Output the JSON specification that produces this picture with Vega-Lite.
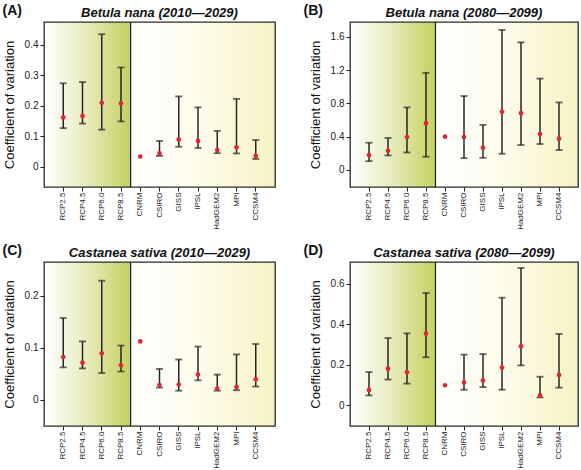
{
  "$schema": "https://vega.github.io/schema/vega-lite/v6.json",
  "background": "white",
  "padding": {"left": 1, "top": 2, "right": 2, "bottom": 0},
  "datasets": {
    "A": [
      {"model": "RCP2.5", "lo": 0.127, "med": 0.162, "hi": 0.274},
      {"model": "RCP4.5", "lo": 0.142, "med": 0.167, "hi": 0.278},
      {"model": "RCP6.0", "lo": 0.122, "med": 0.210, "hi": 0.435},
      {"model": "RCP8.5", "lo": 0.149, "med": 0.208, "hi": 0.326},
      {"model": "CNRM", "lo": null, "med": 0.034, "hi": null},
      {"model": "CSIRO", "lo": 0.036, "med": 0.044, "hi": 0.085},
      {"model": "GISS", "lo": 0.066, "med": 0.090, "hi": 0.231},
      {"model": "IPSL", "lo": 0.062, "med": 0.085, "hi": 0.195},
      {"model": "HadGEM2", "lo": 0.045, "med": 0.055, "hi": 0.118},
      {"model": "MPI", "lo": 0.044, "med": 0.064, "hi": 0.223},
      {"model": "CCSM4", "lo": 0.026, "med": 0.036, "hi": 0.088}
    ],
    "B": [
      {"model": "RCP2.5", "lo": 0.105, "med": 0.178, "hi": 0.327},
      {"model": "RCP4.5", "lo": 0.174, "med": 0.230, "hi": 0.384},
      {"model": "RCP6.0", "lo": 0.210, "med": 0.396, "hi": 0.752},
      {"model": "RCP8.5", "lo": 0.158, "med": 0.562, "hi": 1.168},
      {"model": "CNRM", "lo": null, "med": 0.400, "hi": null},
      {"model": "CSIRO", "lo": 0.141, "med": 0.396, "hi": 0.889},
      {"model": "GISS", "lo": 0.145, "med": 0.267, "hi": 0.541},
      {"model": "IPSL", "lo": 0.194, "med": 0.699, "hi": 1.685},
      {"model": "HadGEM2", "lo": 0.299, "med": 0.683, "hi": 1.535},
      {"model": "MPI", "lo": 0.311, "med": 0.432, "hi": 1.099},
      {"model": "CCSM4", "lo": 0.238, "med": 0.376, "hi": 0.812}
    ],
    "C": [
      {"model": "RCP2.5", "lo": 0.062, "med": 0.082, "hi": 0.157},
      {"model": "RCP4.5", "lo": 0.060, "med": 0.071, "hi": 0.112},
      {"model": "RCP6.0", "lo": 0.051, "med": 0.089, "hi": 0.229},
      {"model": "RCP8.5", "lo": 0.054, "med": 0.066, "hi": 0.104},
      {"model": "CNRM", "lo": null, "med": 0.112, "hi": null},
      {"model": "CSIRO", "lo": 0.023, "med": 0.028, "hi": 0.059},
      {"model": "GISS", "lo": 0.017, "med": 0.029, "hi": 0.077},
      {"model": "IPSL", "lo": 0.037, "med": 0.048, "hi": 0.102},
      {"model": "HadGEM2", "lo": 0.017, "med": 0.021, "hi": 0.048},
      {"model": "MPI", "lo": 0.018, "med": 0.024, "hi": 0.087},
      {"model": "CCSM4", "lo": 0.025, "med": 0.039, "hi": 0.107}
    ],
    "D": [
      {"model": "RCP2.5", "lo": 0.049, "med": 0.076, "hi": 0.164},
      {"model": "RCP4.5", "lo": 0.127, "med": 0.181, "hi": 0.332},
      {"model": "RCP6.0", "lo": 0.107, "med": 0.163, "hi": 0.355},
      {"model": "RCP8.5", "lo": 0.237, "med": 0.354, "hi": 0.554},
      {"model": "CNRM", "lo": null, "med": 0.099, "hi": null},
      {"model": "CSIRO", "lo": 0.077, "med": 0.112, "hi": 0.250},
      {"model": "GISS", "lo": 0.090, "med": 0.122, "hi": 0.253},
      {"model": "IPSL", "lo": 0.077, "med": 0.186, "hi": 0.531},
      {"model": "HadGEM2", "lo": 0.197, "med": 0.291, "hi": 0.678},
      {"model": "MPI", "lo": 0.039, "med": 0.049, "hi": 0.141},
      {"model": "CCSM4", "lo": 0.087, "med": 0.150, "hi": 0.352}
    ]
  },
  "vconcat": [
    {
      "hconcat": [
        {
          "width": 231, "height": 165,
          "title": {"text": "Betula nana (2010—2029)"},
          "resolve": {"axis": {"x": "independent"}},
          "layer": [
            {"data": {"values": [{}]}, "mark": {"type": "rule", "color": "#1a1a1a", "strokeWidth": 1.2},
             "encoding": {"x": {"datum": "CNRM", "type": "nominal", "bandPosition": 0,
               "scale": {"type": "band", "domain": ["RCP2.5","RCP4.5","RCP6.0","RCP8.5","CNRM","CSIRO","GISS","IPSL","HadGEM2","MPI","CCSM4"], "paddingInner": 0, "paddingOuter": 0.5},
               "axis": {"orient": "top", "labels": false, "ticks": false, "domain": false, "title": "(A)", "titleFontSize": 14, "titleFontWeight": "bold", "titleAnchor": "start", "titleAlign": "left", "titleBaseline": "alphabetic", "titleX": -42, "titleY": -8}}}},
            {"data": {"name": "A"}, "mark": {"type": "rule", "color": "#262626", "strokeWidth": 1.5},
             "encoding": {"x": {"field": "model", "type": "nominal", "sort": null,
               "axis": {"orient": "bottom", "labelAngle": -90, "title": null}},
               "y": {"field": "lo", "type": "quantitative", "scale": {"domain": [-0.066, 0.475], "nice": false, "zero": false},
                 "axis": {"values": [0, 0.1, 0.2, 0.3, 0.4], "title": "Coefficient of variation"}},
               "y2": {"field": "hi"}}},
            {"data": {"name": "A"}, "mark": {"type": "tick", "color": "#262626", "size": 7, "thickness": 1.8},
             "encoding": {"x": {"field": "model", "type": "nominal", "sort": null, "axis": null}, "y": {"field": "lo", "type": "quantitative"}}},
            {"data": {"name": "A"}, "mark": {"type": "tick", "color": "#262626", "size": 7, "thickness": 1.8},
             "encoding": {"x": {"field": "model", "type": "nominal", "sort": null, "axis": null}, "y": {"field": "hi", "type": "quantitative"}}},
            {"data": {"name": "A"}, "mark": {"type": "circle", "color": "#e3262d", "size": 22, "opacity": 1},
             "encoding": {"x": {"field": "model", "type": "nominal", "sort": null, "axis": null}, "y": {"field": "med", "type": "quantitative"}}}
          ]
        },
        {
          "width": 228, "height": 165,
          "title": {"text": "Betula nana (2080—2099)"},
          "resolve": {"axis": {"x": "independent"}},
          "layer": [
            {"data": {"values": [{}]}, "mark": {"type": "rule", "color": "#1a1a1a", "strokeWidth": 1.2},
             "encoding": {"x": {"datum": "CNRM", "type": "nominal", "bandPosition": 0,
               "scale": {"type": "band", "domain": ["RCP2.5","RCP4.5","RCP6.0","RCP8.5","CNRM","CSIRO","GISS","IPSL","HadGEM2","MPI","CCSM4"], "paddingInner": 0, "paddingOuter": 0.5},
               "axis": {"orient": "top", "labels": false, "ticks": false, "domain": false, "title": "(B)", "titleFontSize": 14, "titleFontWeight": "bold", "titleAnchor": "start", "titleAlign": "left", "titleBaseline": "alphabetic", "titleX": -47, "titleY": -8}}}},
            {"data": {"name": "B"}, "mark": {"type": "rule", "color": "#262626", "strokeWidth": 1.5},
             "encoding": {"x": {"field": "model", "type": "nominal", "sort": null,
               "axis": {"orient": "bottom", "labelAngle": -90, "title": null}},
               "y": {"field": "lo", "type": "quantitative", "scale": {"domain": [-0.206, 1.78], "nice": false, "zero": false},
                 "axis": {"values": [0, 0.4, 0.8, 1.2, 1.6], "title": "Coefficient of variation"}},
               "y2": {"field": "hi"}}},
            {"data": {"name": "B"}, "mark": {"type": "tick", "color": "#262626", "size": 7, "thickness": 1.8},
             "encoding": {"x": {"field": "model", "type": "nominal", "sort": null, "axis": null}, "y": {"field": "lo", "type": "quantitative"}}},
            {"data": {"name": "B"}, "mark": {"type": "tick", "color": "#262626", "size": 7, "thickness": 1.8},
             "encoding": {"x": {"field": "model", "type": "nominal", "sort": null, "axis": null}, "y": {"field": "hi", "type": "quantitative"}}},
            {"data": {"name": "B"}, "mark": {"type": "circle", "color": "#e3262d", "size": 22, "opacity": 1},
             "encoding": {"x": {"field": "model", "type": "nominal", "sort": null, "axis": null}, "y": {"field": "med", "type": "quantitative"}}}
          ]
        }
      ],
      "spacing": 26
    },
    {
      "hconcat": [
        {
          "width": 231, "height": 164,
          "title": {"text": "Castanea sativa (2010—2029)"},
          "resolve": {"axis": {"x": "independent"}},
          "layer": [
            {"data": {"values": [{}]}, "mark": {"type": "rule", "color": "#1a1a1a", "strokeWidth": 1.2},
             "encoding": {"x": {"datum": "CNRM", "type": "nominal", "bandPosition": 0,
               "scale": {"type": "band", "domain": ["RCP2.5","RCP4.5","RCP6.0","RCP8.5","CNRM","CSIRO","GISS","IPSL","HadGEM2","MPI","CCSM4"], "paddingInner": 0, "paddingOuter": 0.5},
               "axis": {"orient": "top", "labels": false, "ticks": false, "domain": false, "title": "(C)", "titleFontSize": 14, "titleFontWeight": "bold", "titleAnchor": "start", "titleAlign": "left", "titleBaseline": "alphabetic", "titleX": -42, "titleY": -8}}}},
            {"data": {"name": "C"}, "mark": {"type": "rule", "color": "#262626", "strokeWidth": 1.5},
             "encoding": {"x": {"field": "model", "type": "nominal", "sort": null,
               "axis": {"orient": "bottom", "labelAngle": -90, "title": null}},
               "y": {"field": "lo", "type": "quantitative", "scale": {"domain": [-0.051, 0.265], "nice": false, "zero": false},
                 "axis": {"values": [0, 0.1, 0.2], "title": "Coefficient of variation"}},
               "y2": {"field": "hi"}}},
            {"data": {"name": "C"}, "mark": {"type": "tick", "color": "#262626", "size": 7, "thickness": 1.8},
             "encoding": {"x": {"field": "model", "type": "nominal", "sort": null, "axis": null}, "y": {"field": "lo", "type": "quantitative"}}},
            {"data": {"name": "C"}, "mark": {"type": "tick", "color": "#262626", "size": 7, "thickness": 1.8},
             "encoding": {"x": {"field": "model", "type": "nominal", "sort": null, "axis": null}, "y": {"field": "hi", "type": "quantitative"}}},
            {"data": {"name": "C"}, "mark": {"type": "circle", "color": "#e3262d", "size": 22, "opacity": 1},
             "encoding": {"x": {"field": "model", "type": "nominal", "sort": null, "axis": null}, "y": {"field": "med", "type": "quantitative"}}}
          ]
        },
        {
          "width": 228, "height": 164,
          "title": {"text": "Castanea sativa (2080—2099)"},
          "resolve": {"axis": {"x": "independent"}},
          "layer": [
            {"data": {"values": [{}]}, "mark": {"type": "rule", "color": "#1a1a1a", "strokeWidth": 1.2},
             "encoding": {"x": {"datum": "CNRM", "type": "nominal", "bandPosition": 0,
               "scale": {"type": "band", "domain": ["RCP2.5","RCP4.5","RCP6.0","RCP8.5","CNRM","CSIRO","GISS","IPSL","HadGEM2","MPI","CCSM4"], "paddingInner": 0, "paddingOuter": 0.5},
               "axis": {"orient": "top", "labels": false, "ticks": false, "domain": false, "title": "(D)", "titleFontSize": 14, "titleFontWeight": "bold", "titleAnchor": "start", "titleAlign": "left", "titleBaseline": "alphabetic", "titleX": -47, "titleY": -8}}}},
            {"data": {"name": "D"}, "mark": {"type": "rule", "color": "#262626", "strokeWidth": 1.5},
             "encoding": {"x": {"field": "model", "type": "nominal", "sort": null,
               "axis": {"orient": "bottom", "labelAngle": -90, "title": null}},
               "y": {"field": "lo", "type": "quantitative", "scale": {"domain": [-0.102, 0.707], "nice": false, "zero": false},
                 "axis": {"values": [0, 0.2, 0.4, 0.6], "title": "Coefficient of variation"}},
               "y2": {"field": "hi"}}},
            {"data": {"name": "D"}, "mark": {"type": "tick", "color": "#262626", "size": 7, "thickness": 1.8},
             "encoding": {"x": {"field": "model", "type": "nominal", "sort": null, "axis": null}, "y": {"field": "lo", "type": "quantitative"}}},
            {"data": {"name": "D"}, "mark": {"type": "tick", "color": "#262626", "size": 7, "thickness": 1.8},
             "encoding": {"x": {"field": "model", "type": "nominal", "sort": null, "axis": null}, "y": {"field": "hi", "type": "quantitative"}}},
            {"data": {"name": "D"}, "mark": {"type": "circle", "color": "#e3262d", "size": 22, "opacity": 1},
             "encoding": {"x": {"field": "model", "type": "nominal", "sort": null, "axis": null}, "y": {"field": "med", "type": "quantitative"}}}
          ]
        }
      ],
      "spacing": 26
    }
  ],
  "spacing": 12,
  "config": {
    "font": "Liberation Sans",
    "view": {
      "fill": {"gradient": "linear", "x1": 0, "y1": 0, "x2": 1, "y2": 0,
        "stops": [
          {"offset": 0, "color": "#ffffff"},
          {"offset": 0.19, "color": "#e6ebb9"},
          {"offset": 0.375, "color": "#c5d05e"},
          {"offset": 0.376, "color": "#ffffff"},
          {"offset": 0.7, "color": "#fdfbe8"},
          {"offset": 1, "color": "#f7f2c3"}
        ]},
      "stroke": "#2a2a2a",
      "strokeWidth": 1.3
    },
    "axis": {
      "grid": false,
      "domain": false,
      "labelColor": "#222222",
      "tickColor": "#222222",
      "tickSize": 4,
      "labelPadding": 2,
      "titleColor": "#111111",
      "titleFontWeight": "normal"
    },
    "axisX": {
      "labelFontSize": 8,
      "labelPadding": 1
    },
    "axisY": {
      "format": "~f",
      "labelFontSize": 10,
      "titleFontSize": 13,
      "titlePadding": 8
    },
    "title": {
      "fontSize": 13,
      "fontWeight": "bold",
      "fontStyle": "italic",
      "color": "#111111",
      "offset": -17
    }
  }
}
